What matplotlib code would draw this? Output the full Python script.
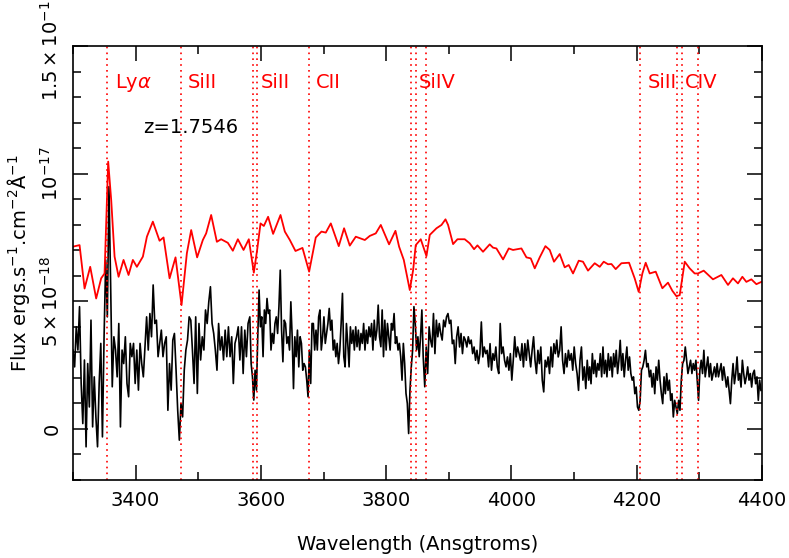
import numpy as np
import matplotlib
matplotlib.use('Agg')
import matplotlib.pyplot as plt
from matplotlib.ticker import MultipleLocator, FixedLocator

# observed spectrum (flux in units of 1e-18 erg/s/cm2/A), in four wavelength stretches
blk_a = [3.09, 2.43, 4.00, 3.09, 4.79, 1.78, 0.21, 2.70, -0.70, 2.56,
         0.86, 4.26, 0.08, 2.04, 0.47, -0.70, 1.78, 3.35, -0.31, 3.61,
         6.62, 4.39, 9.49, 5.70, 1.65, 3.61, 3.09, 2.04, 4.13, 0.08,
         3.09, 2.56, 3.61, 1.78, 1.26, 3.35, 2.83, 3.35, 1.78, 3.09,
         1.52, 3.35, 2.56, 2.04, 3.22, 4.39, 3.09, 4.52, 3.61, 5.64,
         4.13, 4.26, 2.83, 3.35, 3.87, 2.83, 3.35, 3.61, 0.73, 2.56,
         1.52, 3.48, 3.74, 2.30, 0.73, -0.44, 1.00, 0.47, 2.30, 3.09,
         3.48, 4.39, 4.26, 3.09, 1.78, 4.39, 1.39, 4.13, 2.70, 3.61,
         3.09, 4.66, 4.13, 4.98, 5.57, 4.13, 3.74, 3.09, 2.30, 4.13,
         3.09, 3.61, 2.70, 3.87, 2.83, 4.00, 2.83, 3.61, 1.78, 3.35,
         3.61, 4.00, 2.70, 4.00, 2.17, 3.87, 2.83, 4.13]
blk_b = [4.39, 2.56, 2.04, 1.13, 2.30, 1.52, 3.61, 5.44, 4.00, 4.39,
         2.83, 4.66, 4.13, 5.11, 4.52, 4.66, 3.09, 3.74, 3.35, 4.13,
         4.39, 3.74, 4.79, 6.22, 3.87, 2.63, 4.26, 4.13, 3.35, 3.61,
         3.09, 4.98, 3.61, 1.58, 3.61, 2.83, 3.87, 2.43, 3.61, 3.35,
         2.30, 2.56, 2.43, 1.91, 1.26, 3.09, 1.78, 4.13, 4.13, 3.09,
         3.87, 3.09, 4.39, 4.66, 3.09, 3.61, 4.39, 3.35, 3.74, 4.13,
         4.72, 3.87, 4.26, 3.09, 3.48, 2.83, 3.35, 2.56, 3.09, 4.13,
         5.31, 2.83, 2.43, 4.13, 3.35, 2.43, 4.00, 3.35, 3.87, 3.09,
         4.00, 3.22, 3.87, 3.09, 3.74, 3.35, 4.13, 3.09, 3.87, 3.35,
         4.00, 3.61, 4.13, 3.09, 4.26, 3.48, 3.87, 4.85, 3.61, 3.22,
         4.66, 2.83, 4.26, 3.09, 4.13, 3.61, 3.09, 4.13, 3.87, 4.52,
         3.35, 3.61, 3.09, 3.35, 2.83, 1.91, 3.35, 2.56, 1.39, 1.00,
         -0.18, 1.52, 2.43, 3.09, 4.79, 4.13, 3.09, 3.61, 2.83, 3.61,
         4.66, 2.83]
blk_c = [1.65, 3.21, 2.17, 4.00, 3.48, 3.21, 4.52, 2.95, 4.26, 3.61,
         4.13, 3.74, 3.48, 4.26, 4.00, 4.39, 4.52, 4.13, 4.26, 3.34,
         3.48, 2.56, 3.61, 4.00, 3.21, 3.74, 2.95, 3.61, 3.48, 3.21,
         3.61, 3.34, 3.48, 2.95, 3.21, 2.69, 3.08, 2.56, 2.95, 4.19,
         2.82, 3.21, 2.95, 3.08, 2.43, 3.34, 2.30, 2.95, 2.69, 3.21,
         2.43, 2.17, 4.13, 2.95, 3.21, 2.69, 2.43, 2.82, 2.30, 2.95,
         1.91, 2.69, 3.61, 2.82, 3.21, 2.95, 2.69, 3.34, 2.43, 3.34,
         2.69, 3.48, 2.95, 2.43, 3.08, 3.61, 2.69, 2.17, 3.08, 2.56,
         3.21, 1.91, 1.45, 2.69, 2.43, 2.82, 2.17, 3.21, 2.43, 3.34,
         2.95, 3.48, 2.82, 3.08, 4.00, 2.69, 2.17, 2.95, 2.43, 3.08,
         2.69, 2.95, 2.30, 3.21, 2.56, 2.17, 1.51, 2.69, 3.21, 1.91,
         2.43, 1.58, 2.69, 1.91]
blk_d = [2.43, 1.77, 2.95, 2.17, 2.69, 2.04, 2.56, 2.30, 2.95, 2.04,
         3.21, 2.17, 2.69, 2.04, 2.95, 2.30, 2.82, 2.04, 2.95, 2.43,
         3.08, 2.17, 2.69, 3.47, 2.30, 2.95, 2.04, 2.69, 3.21, 2.30,
         2.82, 2.17, 1.91, 2.04, 1.38, 1.64, 0.86, 0.73, 1.12, 2.30,
         2.43, 2.69, 3.08, 2.43, 2.56, 2.04, 2.30, 1.64, 2.17, 1.38,
         2.43, 1.91, 2.69, 1.91, 1.38, 0.99, 2.04, 1.38, 2.17, 1.51,
         1.91, 1.12, 1.38, 0.47, 1.12, 0.86, 0.60, 1.12, 0.73, 1.91,
         2.56, 2.69, 3.21, 2.69, 2.17, 2.43, 2.69, 2.17, 2.56, 2.30,
         2.69, 1.91, 1.12, 2.30, 2.69, 2.17, 3.08, 2.04, 2.43, 2.82,
         2.04, 2.56, 1.91, 2.17, 2.43, 2.04, 2.56, 2.04, 2.30, 2.56,
         1.91, 2.43, 2.04, 1.64, 2.04, 1.51, 0.99, 1.91, 2.56, 1.77,
         2.17, 2.82, 1.91, 2.17, 1.64, 2.69, 2.17, 1.77, 2.04, 2.43,
         1.91, 2.17, 1.64, 2.17, 2.30, 1.77, 2.04, 1.12, 1.91, 1.51]
blk_ranges = [(3300.0, 3579.5), (3582.3, 3859.1), (3861.6, 4123.3), (4124.9, 4398.3)]

# smoothed spectrum (shifted up), same units
red_wave = [3300, 3310.5, 3318.5, 3327.5, 3337, 3345, 3350.4, 3356.2, 3361, 3366.4,
            3372.8, 3380.7, 3388.7, 3395.6, 3402, 3411.6, 3418, 3427.5, 3438.2, 3444.6,
            3454.2, 3463.7, 3473.3, 3481.8, 3488.7, 3498.2, 3507.3, 3512.6, 3520.6, 3529.7,
            3536.5, 3547.2, 3555.2, 3563.2, 3572.3, 3580.7, 3588.7, 3594, 3599.4, 3604.7,
            3611.5, 3619.5, 3631.3, 3638.2, 3646.2, 3655.2, 3666.4, 3677, 3687.6, 3696.7,
            3703.6, 3711.6, 3724.3, 3732.8, 3741.9, 3751.5, 3765.9, 3773.8, 3783.4, 3791.4,
            3804.6, 3814.8, 3820.6, 3828.1, 3837.7, 3843, 3847.2, 3855.2, 3864.3, 3869.6,
            3880.3, 3888.3, 3894.7, 3898.8, 3906.8, 3913.8, 3925.4, 3933.4, 3940.3, 3945.7,
            3954.6, 3965.3, 3970.6, 3976, 3986.6, 3995.7, 4002.5, 4015.9, 4023.9, 4030.8,
            4037.2, 4045.1, 4054.2, 4061.1, 4067.9, 4077, 4085, 4091.4, 4098.3, 4107.4,
            4114.2, 4122.2, 4132.9, 4140.9, 4147.3, 4154.2, 4159.6, 4166.4, 4175.5, 4187.7,
            4196.7, 4203.1, 4209, 4214.3, 4220.7, 4230.3, 4240.9, 4249.9, 4256.9, 4263.3,
            4268.6, 4276.6, 4284.5, 4292.5, 4297.8, 4306.9, 4321.7, 4335.1, 4345.7, 4353.6,
            4361.6, 4368.6, 4375, 4383, 4391, 4399]
red_flux = [7.14, 7.2, 5.5, 6.35, 5.11, 5.9, 6.09, 10.47, 8.97, 6.75,
            5.96, 6.62, 6.03, 6.62, 6.35, 6.75, 7.53, 8.12, 7.37, 7.5,
            5.9, 6.72, 4.85, 6.88, 7.79, 6.72, 7.4, 7.66, 8.38, 7.33,
            7.43, 7.29, 6.98, 7.43, 7.01, 7.43, 6.12, 7.01, 8.05, 7.95,
            8.31, 7.64, 8.38, 7.73, 7.4, 6.97, 7.09, 6.16, 7.5, 7.73,
            7.69, 8.05, 7.16, 7.86, 7.18, 7.53, 7.4, 7.56, 7.66, 7.99,
            7.23, 7.76, 7.14, 6.62, 5.44, 6.22, 7.2, 7.43, 6.77, 7.6,
            7.86, 7.99, 8.21, 7.99, 7.24, 7.43, 7.43, 7.27, 7.04, 7.19,
            6.94, 7.23, 7.10, 7.07, 6.64, 7.07, 7.01, 7.07, 6.72, 6.68,
            6.29, 6.72, 7.16, 7.01, 6.55, 6.85, 6.33, 6.42, 6.09, 6.59,
            6.55, 6.2, 6.49, 6.35, 6.55, 6.45, 6.46, 6.26, 6.49, 6.51,
            5.9, 5.37, 6.09, 6.51, 6.09, 6.16, 5.51, 5.73, 5.41, 5.2,
            5.24, 6.55, 6.29, 6.09, 6.09, 6.2, 5.86, 6.03, 5.64, 5.9,
            5.7, 5.96, 5.76, 5.86, 5.67, 5.76]

# absorption / emission line markers (observed wavelength)
line_wave = [3354.6, 3472.0, 3587.0, 3593.0, 3676.2, 3839.3, 3848.4, 3864.1,
             4205.5, 4264.5, 4271.5, 4297.9]
label_names = ['Ly$\\alpha$', 'SiII', 'SiII', 'CII', 'SiIV', 'SiII', 'CIV']
label_wave = [3354.6, 3472.0, 3587.0, 3676.2, 3839.3, 4205.5, 4264.5]
redshift = '1.7546'

ytick_vals = [0, 5e-18, 1e-17, 1.5e-17]
ytick_text = ['0', '$5\\times10^{-18}$', '$10^{-17}$', '$1.5\\times10^{-17}$']

fig = plt.figure(figsize=(7.89, 5.58), dpi=100)
ax = fig.add_axes([0.0925, 0.1398, 0.8733, 0.7778])

for (w0, w1), seg in zip(blk_ranges, [blk_a, blk_b, blk_c, blk_d]):
    pass
blk_wave = np.concatenate([np.linspace(w0, w1, len(s)) for (w0, w1), s in
                           zip(blk_ranges, [blk_a, blk_b, blk_c, blk_d])])
blk_flux = np.concatenate([blk_a, blk_b, blk_c, blk_d]) * 1e-18

ax.plot(blk_wave, blk_flux, color='black', lw=1.2)
ax.plot(red_wave, np.array(red_flux) * 1e-18, color='red', lw=1.3)

for w in line_wave:
    ax.axvline(w, color='red', ls=(0, (1, 2.5)), lw=1.2)
for name, w in zip(label_names, label_wave):
    ax.text(w + 12, 1.356e-17, name, color='red', fontsize=14, va='center')
ax.text(3411.6, 1.18e-17, 'z=' + redshift, color='black', fontsize=14, va='center')

ax.set_xlim(3300, 4400)
ax.set_ylim(-2e-18, 1.5e-17)
ax.xaxis.set_major_locator(MultipleLocator(200))
ax.xaxis.set_minor_locator(MultipleLocator(100))
ax.yaxis.set_major_locator(FixedLocator(ytick_vals))
ax.yaxis.set_minor_locator(MultipleLocator(1e-18))
ax.set_yticklabels(ytick_text, rotation=90, va='center')
ax.tick_params(which='both', direction='in', top=True, right=True, labelsize=14, width=1.1)
ax.tick_params(which='major', length=11, pad=8)
ax.tick_params(which='minor', length=6)
for sp in ax.spines.values():
    sp.set_linewidth(1.2)

ax.set_xlabel('Wavelength (Ansgtroms)', fontsize=14, labelpad=18)
ax.set_ylabel('Flux ergs.s$^{-1}$.cm$^{-2}$Å$^{-1}$', fontsize=14, labelpad=6)

fig.savefig('out.png', dpi=100)
